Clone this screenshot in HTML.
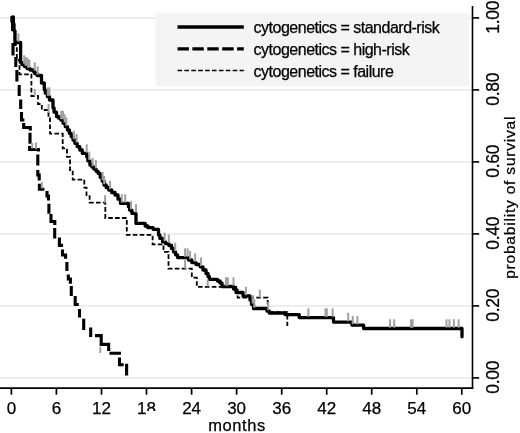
<!DOCTYPE html>
<html><head><meta charset="utf-8"><title>Survival by cytogenetics</title>
<style>
html,body{margin:0;padding:0;background:#fff;}
svg{display:block;}
text{font-family:"Liberation Sans",sans-serif;fill:#000;stroke:#000;stroke-width:0.25px;}
</style></head><body>
<svg width="520" height="433" viewBox="0 0 520 433">
<rect width="520" height="433" fill="#fff"/>
<line x1="0" y1="377.9" x2="472" y2="377.9" stroke="#e9e9e9" stroke-width="1.5"/>
<line x1="0" y1="305.9" x2="472" y2="305.9" stroke="#e9e9e9" stroke-width="1.5"/>
<line x1="0" y1="233.9" x2="472" y2="233.9" stroke="#e9e9e9" stroke-width="1.5"/>
<line x1="0" y1="161.9" x2="472" y2="161.9" stroke="#e9e9e9" stroke-width="1.5"/>
<line x1="0" y1="89.9" x2="472" y2="89.9" stroke="#e9e9e9" stroke-width="1.5"/>
<line x1="0" y1="17.9" x2="472" y2="17.9" stroke="#e9e9e9" stroke-width="1.5"/>
<rect x="155.5" y="13" width="313.5" height="73" fill="#f4f4f4"/>
<line x1="0" y1="388.1" x2="473.3" y2="388.1" stroke="#000" stroke-width="1.6"/>
<line x1="472.5" y1="6" x2="472.5" y2="388.6" stroke="#000" stroke-width="1.6"/>
<line x1="11.4" y1="388.1" x2="11.4" y2="394.7" stroke="#000" stroke-width="1.7"/>
<text x="11.4" y="414.2" font-size="17" text-anchor="middle">0</text>
<line x1="56.4" y1="388.1" x2="56.4" y2="394.7" stroke="#000" stroke-width="1.7"/>
<text x="56.4" y="414.2" font-size="17" text-anchor="middle">6</text>
<line x1="101.5" y1="388.1" x2="101.5" y2="394.7" stroke="#000" stroke-width="1.7"/>
<text x="101.5" y="414.2" font-size="17" text-anchor="middle">12</text>
<line x1="146.5" y1="388.1" x2="146.5" y2="394.7" stroke="#000" stroke-width="1.7"/>
<text x="146.5" y="414.2" font-size="17" text-anchor="middle">18</text>
<line x1="191.6" y1="388.1" x2="191.6" y2="394.7" stroke="#000" stroke-width="1.7"/>
<text x="191.6" y="414.2" font-size="17" text-anchor="middle">24</text>
<line x1="236.6" y1="388.1" x2="236.6" y2="394.7" stroke="#000" stroke-width="1.7"/>
<text x="236.6" y="414.2" font-size="17" text-anchor="middle">30</text>
<line x1="281.7" y1="388.1" x2="281.7" y2="394.7" stroke="#000" stroke-width="1.7"/>
<text x="281.7" y="414.2" font-size="17" text-anchor="middle">36</text>
<line x1="326.7" y1="388.1" x2="326.7" y2="394.7" stroke="#000" stroke-width="1.7"/>
<text x="326.7" y="414.2" font-size="17" text-anchor="middle">42</text>
<line x1="371.7" y1="388.1" x2="371.7" y2="394.7" stroke="#000" stroke-width="1.7"/>
<text x="371.7" y="414.2" font-size="17" text-anchor="middle">48</text>
<line x1="416.8" y1="388.1" x2="416.8" y2="394.7" stroke="#000" stroke-width="1.7"/>
<text x="416.8" y="414.2" font-size="17" text-anchor="middle">54</text>
<line x1="461.8" y1="388.1" x2="461.8" y2="394.7" stroke="#000" stroke-width="1.7"/>
<text x="461.8" y="414.2" font-size="17" text-anchor="middle">60</text>
<rect x="146.3" y="411" width="11.5" height="5" fill="#fff"/>
<text x="237" y="430.8" font-size="16.5" text-anchor="middle" letter-spacing="0.6">months</text>
<line x1="472.5" y1="377.9" x2="479.2" y2="377.9" stroke="#000" stroke-width="1.6"/>
<text transform="translate(499.2,377.2) rotate(-90)" font-size="17.5" text-anchor="middle" letter-spacing="-0.3">0.00</text>
<line x1="472.5" y1="305.9" x2="479.2" y2="305.9" stroke="#000" stroke-width="1.6"/>
<text transform="translate(499.2,305.2) rotate(-90)" font-size="17.5" text-anchor="middle" letter-spacing="-0.3">0.20</text>
<line x1="472.5" y1="233.9" x2="479.2" y2="233.9" stroke="#000" stroke-width="1.6"/>
<text transform="translate(499.2,233.2) rotate(-90)" font-size="17.5" text-anchor="middle" letter-spacing="-0.3">0.40</text>
<line x1="472.5" y1="161.9" x2="479.2" y2="161.9" stroke="#000" stroke-width="1.6"/>
<text transform="translate(499.2,161.2) rotate(-90)" font-size="17.5" text-anchor="middle" letter-spacing="-0.3">0.60</text>
<line x1="472.5" y1="89.9" x2="479.2" y2="89.9" stroke="#000" stroke-width="1.6"/>
<text transform="translate(499.2,89.2) rotate(-90)" font-size="17.5" text-anchor="middle" letter-spacing="-0.3">0.80</text>
<line x1="472.5" y1="17.9" x2="479.2" y2="17.9" stroke="#000" stroke-width="1.6"/>
<text transform="translate(499.2,17.2) rotate(-90)" font-size="17.5" text-anchor="middle" letter-spacing="-0.3">1.00</text>
<text transform="translate(514.7,197.3) rotate(-90)" font-size="15.5" text-anchor="middle" letter-spacing="0.8">probability of survival</text>
<path d="M12.5,17.0 H13.5 V30.0 H14.5 V45.0 H16.8 V60.0 H19.5 V74.3 H31.4 V96.0 H38.0 V104.0 H41.8 V110.0 H48.5 V118.5 H50.0 V133.7 H62.7 V148.4 H67.0 V156.8 H70.0 V170.0 H72.7 V179.6 H84.3 V187.7 H86.5 V195.2 H89.6 V202.6 H105.3 V218.0 H126.8 V234.8 H152.6 V244.3 H163.5 V251.9 H168.5 V268.7 H191.8 V277.7 H196.8 V286.9 H237.6 V297.6 H267.7 V312.2 H287.3 V326.0" fill="none" stroke="#000" stroke-width="1.8" stroke-dasharray="4.6 2.3"/>
<path d="M12.5,16 V31 M13,43 V55.5 M15.8,57 V67 M16.9,70 V81.5 M19.2,85 V96 M20.7,99.5 V109 M21.5,112 V120 H24.4 M23.7,123 V127.5 H30.3 V130.5 M30,132.7 V143.7 M29.6,146 V149.5 H38.4 V151.5 M37.8,154.4 V165.6 M37.8,170 V175 H39.2 V180.6 M39.4,183.7 V189.3 H44.4 M47,191 V196 H48.5 V200.6 M48.9,203.7 V213.7 M51,214 V221.5 H54.8 V225 M54.7,228 V238.5 M59.4,237.5 V245.4 H63.1 M62.5,249.4 V255 H65.6 V258.7 M66.9,262 V271 M68.3,274.4 V279 H70.4 V283.7 M71.3,286 V296 M75.2,296 V304.5 H78.7 M79.5,309 V317.5 M83.7,318.7 V330 M90.7,327.5 V337 M95,335.6 H101.2 V344.4 H108.7 V351 M109.5,353.2 H121 M119.5,357.5 V364.8 H123.7 M126.6,363.7 V375.5" fill="none" stroke="#000" stroke-width="3.1" stroke-linejoin="miter"/>
<rect x="10.3" y="16.2" width="4.6" height="6.3" fill="#000"/>
<path d="M12.5,17.0 H13.2 V24.0 H14.0 V31.0 H15.0 V42.5 H20.6 V62.5 H21.9 V64.5 H24.5 V66.5 H27.1 V68.5 H28.4 V68.5 H30.0 V70.0 H33.5 V71.5 H34.7 V73.5 H37.2 V75.5 H38.4 V75.5 H41.5 V83.0 H44.3 V89.8 H45.3 V93.2 H47.4 V96.6 H49.5 V100.0 H50.5 V100.0 H53.0 V108.0 H54.1 V112.2 H56.5 V116.5 H57.6 V116.5 H58.7 V118.2 H60.9 V120.0 H62.0 V120.0 H63.1 V123.3 H65.3 V126.7 H67.5 V130.0 H68.6 V130.0 H69.4 V133.3 H71.2 V136.7 H72.0 V136.7 H73.0 V140.0 H74.9 V143.3 H75.9 V143.3 H77.2 V146.7 H79.8 V150.0 H82.3 V153.4 H83.6 V153.4 H86.7 V156.7 H87.8 V160.8 H89.9 V165.0 H90.9 V165.0 H92.0 V167.1 H94.0 V169.2 H96.2 V171.3 H98.2 V173.4 H99.3 V173.4 H100.2 V177.3 H102.2 V181.1 H104.0 V185.0 H105.0 V185.0 H106.2 V187.5 H108.8 V190.0 H110.0 V190.0 H111.7 V192.5 H115.0 V195.0 H116.7 V195.0 H118.0 V199.2 H120.5 V203.4 H121.8 V203.4 H128.4 V206.7 H129.6 V210.1 H131.9 V213.4 H133.1 V213.4 H136.0 V223.4 H145.2 V226.0 H147.9 V227.7 H153.2 V229.3 H155.9 V229.3 H158.5 V235.0 H159.9 V238.4 H162.6 V241.8 H164.0 V241.8 H165.6 V243.7 H168.9 V245.5 H170.5 V245.5 H171.6 V248.7 H173.6 V251.9 H174.7 V251.9 H175.6 V254.8 H177.6 V257.6 H178.5 V257.6 H188.5 V260.0 H191.8 V262.6 H196.0 V264.5 H200.2 V266.8 H203.0 V270.0 H206.0 V273.5 H208.0 V276.5 H209.4 V279.4 H217.5 V281.0 H220.0 V283.0 H222.0 V286.5 H233.6 V289.0 H236.0 V292.5 H243.0 V296.0 H250.0 V300.0 H251.5 V304.3 H253.5 V308.5 H267.0 V311.0 H269.3 V313.0 H285.0 V314.6 H299.2 V317.6 H333.5 V322.1 H351.9 V325.1 H363.6 V328.5 H462.0 V336.8" fill="none" stroke="#000" stroke-width="3.3" stroke-linejoin="round" stroke-linecap="round"/>
<g stroke="#a0a0a0" stroke-width="2">
<line x1="18.4" y1="33.3" x2="18.4" y2="41.7"/>
<line x1="24.2" y1="55.3" x2="24.2" y2="63.7"/>
<line x1="25.5" y1="57.3" x2="25.5" y2="65.7"/>
<line x1="26.8" y1="57.3" x2="26.8" y2="65.7"/>
<line x1="28.1" y1="59.3" x2="28.1" y2="67.7"/>
<line x1="29.4" y1="59.3" x2="29.4" y2="67.7"/>
<line x1="34.7" y1="62.3" x2="34.7" y2="70.7"/>
<line x1="37.6" y1="66.3" x2="37.6" y2="74.7"/>
<line x1="47.8" y1="87.4" x2="47.8" y2="95.8"/>
<line x1="49.4" y1="87.4" x2="49.4" y2="95.8"/>
<line x1="61.2" y1="110.8" x2="61.2" y2="119.2"/>
<line x1="63.0" y1="110.8" x2="63.0" y2="119.2"/>
<line x1="64.6" y1="114.1" x2="64.6" y2="122.5"/>
<line x1="66.4" y1="117.5" x2="66.4" y2="125.9"/>
<line x1="73.8" y1="130.8" x2="73.8" y2="139.2"/>
<line x1="76.6" y1="134.1" x2="76.6" y2="142.5"/>
<line x1="86.7" y1="144.2" x2="86.7" y2="152.6"/>
<line x1="89.2" y1="151.7" x2="89.2" y2="160.0"/>
<line x1="92.6" y1="157.9" x2="92.6" y2="166.3"/>
<line x1="95.9" y1="160.0" x2="95.9" y2="168.4"/>
<line x1="102.6" y1="171.9" x2="102.6" y2="180.3"/>
<line x1="104.2" y1="175.8" x2="104.2" y2="184.2"/>
<line x1="110.1" y1="180.8" x2="110.1" y2="189.2"/>
<line x1="121.8" y1="194.2" x2="121.8" y2="202.6"/>
<line x1="125.2" y1="194.2" x2="125.2" y2="202.6"/>
<line x1="131.0" y1="200.9" x2="131.0" y2="209.2"/>
<line x1="136.0" y1="204.2" x2="136.0" y2="212.6"/>
<line x1="164.6" y1="232.6" x2="164.6" y2="241.0"/>
<line x1="168.8" y1="234.5" x2="168.8" y2="242.8"/>
<line x1="175.2" y1="242.7" x2="175.2" y2="251.1"/>
<line x1="185.1" y1="248.4" x2="185.1" y2="256.8"/>
<line x1="187.6" y1="248.4" x2="187.6" y2="256.8"/>
<line x1="190.1" y1="250.8" x2="190.1" y2="259.2"/>
<line x1="195.2" y1="253.4" x2="195.2" y2="261.8"/>
<line x1="201.0" y1="257.6" x2="201.0" y2="266.0"/>
<line x1="226.0" y1="277.3" x2="226.0" y2="285.7"/>
<line x1="227.8" y1="277.3" x2="227.8" y2="285.7"/>
<line x1="233.5" y1="277.3" x2="233.5" y2="285.7"/>
<line x1="245.9" y1="286.8" x2="245.9" y2="295.2"/>
<line x1="252.6" y1="295.1" x2="252.6" y2="303.5"/>
<line x1="254.3" y1="299.3" x2="254.3" y2="307.7"/>
<line x1="268.2" y1="301.8" x2="268.2" y2="310.2"/>
<line x1="308.4" y1="308.4" x2="308.4" y2="316.8"/>
<line x1="325.5" y1="308.4" x2="325.5" y2="316.8"/>
<line x1="326.8" y1="308.4" x2="326.8" y2="316.8"/>
<line x1="332.6" y1="308.4" x2="332.6" y2="316.8"/>
<line x1="348.2" y1="312.9" x2="348.2" y2="321.3"/>
<line x1="352.7" y1="315.9" x2="352.7" y2="324.3"/>
<line x1="357.4" y1="315.9" x2="357.4" y2="324.3"/>
<line x1="390.0" y1="319.3" x2="390.0" y2="327.7"/>
<line x1="394.2" y1="319.3" x2="394.2" y2="327.7"/>
<line x1="411.0" y1="319.3" x2="411.0" y2="327.7"/>
<line x1="412.6" y1="319.3" x2="412.6" y2="327.7"/>
<line x1="446.5" y1="319.3" x2="446.5" y2="327.7"/>
<line x1="449.4" y1="319.3" x2="449.4" y2="327.7"/>
<line x1="453.9" y1="319.3" x2="453.9" y2="327.7"/>
<line x1="458.6" y1="319.3" x2="458.6" y2="327.7"/>
<line x1="34.7" y1="89.0" x2="34.7" y2="96.0"/>
<line x1="48.5" y1="104.0" x2="48.5" y2="113.0"/>
<line x1="36.0" y1="142.6" x2="36.0" y2="149.3"/>
<line x1="32.2" y1="143.0" x2="32.2" y2="148.5"/>
<line x1="41.8" y1="182.0" x2="41.8" y2="188.5"/>
<line x1="105.1" y1="195.2" x2="105.1" y2="202.7"/>
<line x1="185.1" y1="260.0" x2="185.1" y2="268.5"/>
<line x1="207.7" y1="279.4" x2="207.7" y2="286.5"/>
<line x1="259.8" y1="289.8" x2="259.8" y2="297.6"/>
<line x1="100.3" y1="347.0" x2="100.3" y2="353.0"/>
</g>
<line x1="177.5" y1="27" x2="243.8" y2="27" stroke="#000" stroke-width="3.3"/>
<line x1="177.5" y1="48.8" x2="243.8" y2="48.8" stroke="#000" stroke-width="3.3" stroke-dasharray="11.4 3.5"/>
<line x1="177.5" y1="70.5" x2="243.8" y2="70.5" stroke="#000" stroke-width="1.7" stroke-dasharray="4.6 2.3"/>
<text x="253.6" y="33.0" font-size="16" letter-spacing="-0.5">cytogenetics = standard-risk</text>
<text x="253.6" y="54.8" font-size="16" letter-spacing="-0.5">cytogenetics = high-risk</text>
<text x="253.6" y="76.5" font-size="16" letter-spacing="-0.5">cytogenetics = failure</text>
</svg>
</body></html>
